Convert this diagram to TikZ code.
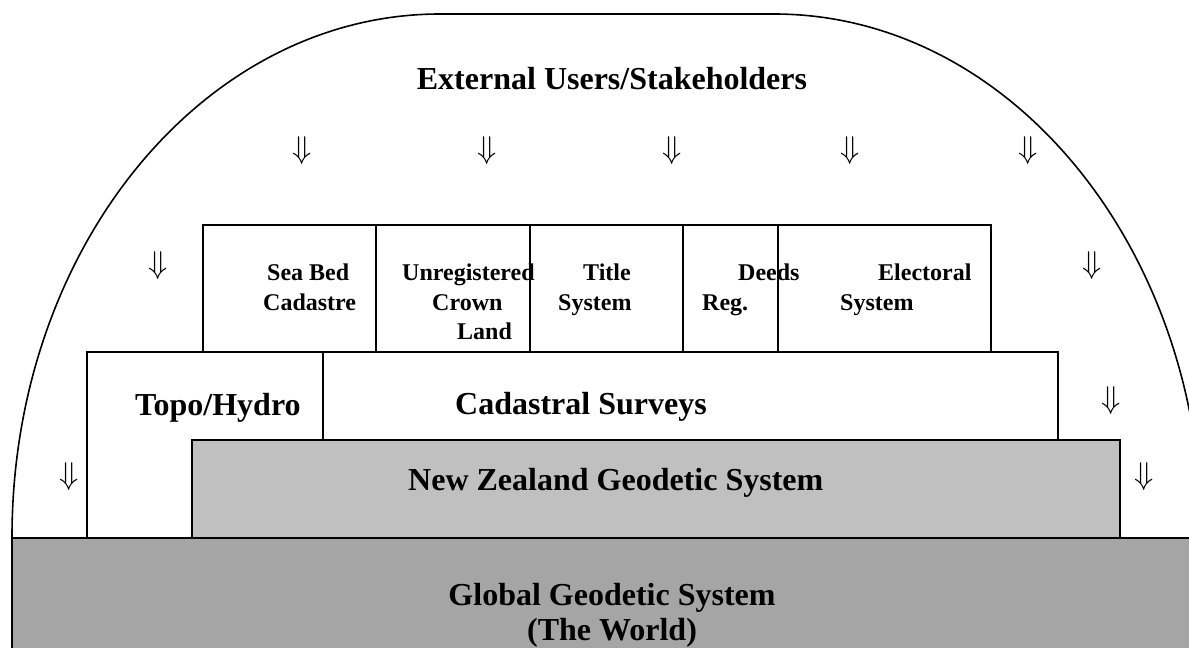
\documentclass[tikz,border=0pt]{standalone}
\usepackage{fontspec}
\setmainfont{Liberation Serif}
\usepackage{tikz}
\usetikzlibrary{positioning}
\definecolor{nzgrey}{RGB}{192,192,192}
\definecolor{worldgrey}{RGB}{165,165,165}
\tikzset{
  layer/.style={draw=black, line width=1.5pt, fill=white},
  bigtext/.style={font=\bfseries\fontsize{32}{35}\selectfont, inner sep=0pt},
  boxtext/.style={font=\bfseries\fontsize{24}{28}\selectfont, inner sep=0pt, anchor=base west},
  flow/.style={inner sep=0pt, scale=3.15}
}

\begin{document}
\begin{tikzpicture}[x=1pt, y=-1pt]
  \useasboundingbox (0,0) rectangle (1189,648);
  \clip (0,0) rectangle (1189,648);

  % the users' dome
  \draw[line width=1.6pt] (12,537) arc[start angle=180, end angle=90, x radius=428pt, y radius=523pt]
    -- (774,14) arc[start angle=90, end angle=0, x radius=428pt, y radius=523pt];

  % layers, bottom one drawn last
  \draw[layer] (87,352) rectangle (323,538);
  \draw[layer] (323,352) rectangle (1058,440);
  \draw[layer] (203,225) rectangle (376,352);
  \draw[layer] (376,225) rectangle (530,352);
  \draw[layer] (530,225) rectangle (683,352);
  \draw[layer] (683,225) rectangle (778,352);
  \draw[layer] (778,225) rectangle (991,352);
  \draw[layer, fill=nzgrey] (192,440) rectangle (1120,538);
  \draw[layer, fill=worldgrey] (12,538) rectangle (1200,660);

  \node[bigtext, anchor=base] (users) at (612,89) {External Users/Stakeholders};

  % flows down from the users
  \foreach \x in {302,487,672,850,1028}
    \node[flow] (in\x) at (\x,151) {$\Downarrow$};
  \node[flow] (inl1) at (158,266) {$\Downarrow$};
  \node[flow] (inr1) at (1092,266) {$\Downarrow$};
  \node[flow] (inr2) at (1111,401) {$\Downarrow$};
  \node[flow] (inl2) at (69,477) {$\Downarrow$};
  \node[flow] (inr3) at (1144,477) {$\Downarrow$};

  % top row
  \node[boxtext] (seabed) at (267,280) {Sea Bed};
  \node[boxtext] (cadastre) at (263,310) {Cadastre};
  \node[boxtext] (unreg) at (402,280) {Unregistered};
  \node[boxtext] (crown) at (432,310) {Crown};
  \node[boxtext] (land) at (457,339) {Land};
  \node[boxtext] (title) at (583,280) {Title};
  \node[boxtext] (titlesys) at (558,310) {System};
  \node[boxtext] (deeds) at (738,280) {Deeds};
  \node[boxtext] (reg) at (702,310) {Reg.};
  \node[boxtext] (elect) at (878,280) {Electoral};
  \node[boxtext] (electsys) at (840,310) {System};

  \node[bigtext, anchor=base west] (topo) at (135,415) {Topo/Hydro};
  \node[bigtext, anchor=base west] (cadsurv) at (455,414) {Cadastral Surveys};
  \node[bigtext, anchor=base west] (nzgs) at (408,490) {New Zealand Geodetic System};
  \node[bigtext, anchor=base] (ggs) at (612,605) {Global Geodetic System};
  \node[bigtext, anchor=base] (world) at (612,640) {(The World)};
\end{tikzpicture}
\end{document}
